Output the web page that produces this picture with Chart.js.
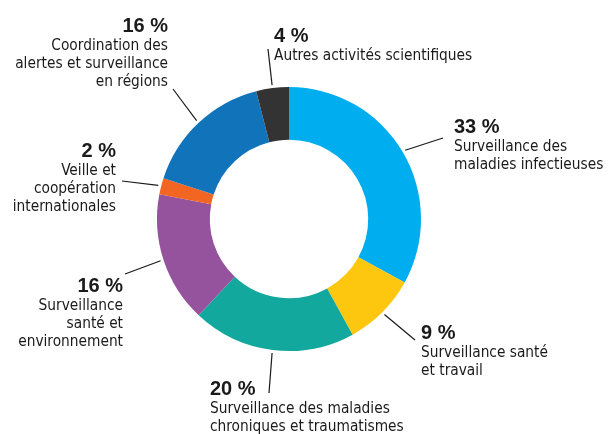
<!DOCTYPE html>
<html>
<head>
<meta charset="utf-8">
<script src="https://cdn.jsdelivr.net/npm/chart.js@4.4.1/dist/chart.umd.min.js"></script>
<style>
  html, body { margin: 0; padding: 0; background: #fff; }
  canvas { display: block; }
</style>
</head>
<body>
<canvas id="budget" width="610" height="434"></canvas>
<script>
// data, clockwise from the top
const percents = [33, 9, 20, 16, 2, 16, 4];
const labelLines = [
  ["Surveillance des", "maladies infectieuses"],
  ["Surveillance santé", "et travail"],
  ["Surveillance des maladies", "chroniques et traumatismes"],
  ["Surveillance", "santé et", "environnement"],
  ["Veille et", "coopération", "internationales"],
  ["Coordination des", "alertes et surveillance", "en régions"],
  ["Autres activités scientifiques"]
];
const colors = ["#00adef", "#fdc70f", "#13a89e", "#95529d", "#f26522", "#1173ba", "#333333"];

// label placement relative to the centre: leader end, text x, first baseline, align
const labelPos = [
  { lx: 154, ly: -81, tx: 165, ty: -86, align: "left" },
  { lx: 126, ly: 121, tx: 132, ty: 120, align: "left" },
  { lx: -20, ly: 174, tx: -79, ty: 176, align: "left" },
  { lx: -164, ly: 55, tx: -166, ty: 73, align: "right" },
  { lx: -167, ly: -38, tx: -173, ty: -62, align: "right" },
  { lx: -116, ly: -130, tx: -121, ty: -187, align: "right" },
  { lx: -21, ly: -170, tx: -15, ty: -177, align: "left" }
];

const calloutPlugin = {
  id: "callouts",
  afterDraw(chart) {
    const ctx = chart.ctx;
    const meta = chart.getDatasetMeta(0);
    ctx.save();
    meta.data.forEach(function (arc, i) {
      const p = arc.getProps(["x", "y", "startAngle", "endAngle", "outerRadius"], true);
      const mid = (p.startAngle + p.endAngle) / 2;
      const pos = labelPos[i];
      const sx = p.x + Math.cos(mid) * (p.outerRadius + 3);
      const sy = p.y + Math.sin(mid) * (p.outerRadius + 3);

      ctx.strokeStyle = "#1a1a1a";
      ctx.lineWidth = 1.2;
      ctx.beginPath();
      ctx.moveTo(sx, sy);
      ctx.lineTo(p.x + pos.lx, p.y + pos.ly);
      ctx.stroke();

      ctx.fillStyle = "#1a1a1a";
      ctx.textAlign = pos.align;
      ctx.textBaseline = "alphabetic";
      ctx.font = "bold 20px 'Liberation Sans', Arial, sans-serif";
      ctx.fillText(percents[i] + " %", p.x + pos.tx, p.y + pos.ty);
      ctx.font = "15.3px 'Liberation Sans Narrow', 'DejaVu Sans Condensed', sans-serif";
      labelLines[i].forEach(function (line, k) {
        ctx.fillText(line, p.x + pos.tx, p.y + pos.ty + 18 * (k + 1));
      });
    });
    ctx.restore();
  }
};

new Chart(document.getElementById("budget"), {
  type: "doughnut",
  data: {
    labels: labelLines.map(function (l) { return l.join(" "); }),
    datasets: [{
      data: percents,
      backgroundColor: colors,
      borderWidth: 0
    }]
  },
  options: {
    responsive: false,
    animation: false,
    cutout: "60%",
    layout: { padding: { left: 157, right: 189, top: 87, bottom: 83 } },
    plugins: {
      legend: { display: false },
      tooltip: { enabled: false }
    }
  },
  plugins: [calloutPlugin]
});
</script>
</body>
</html>
